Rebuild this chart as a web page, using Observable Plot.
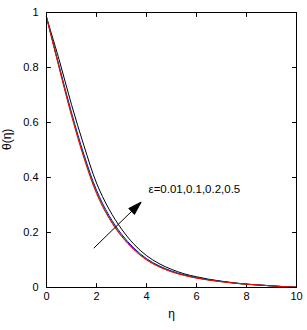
<!DOCTYPE html>
<html>
<head>
<meta charset="utf-8">
<script src="https://cdn.jsdelivr.net/npm/d3@7"></script>
<script src="https://cdn.jsdelivr.net/npm/@observablehq/plot@0.6"></script>
<style>
  html, body { margin: 0; padding: 0; background: #fff; }
  svg { font-family: "Liberation Sans", Arial, sans-serif; }
</style>
</head>
<body>
<div id="chart"></div>
<script>
const eta = [0,0.5,1,1.5,2,2.5,3,3.5,4,4.5,5,5.5,6,6.5,7,7.5,8,8.5,9,9.5,10];
const thetaRed   = [0.983,0.800,0.625,0.470,0.342,0.252,0.186,0.137,0.100,0.075,0.057,0.044,0.034,0.027,0.021,0.016,0.012,0.009,0.006,0.003,0.001];
const thetaGreen = [0.983,0.804,0.630,0.476,0.347,0.256,0.189,0.140,0.102,0.077,0.058,0.045,0.035,0.027,0.021,0.016,0.012,0.009,0.006,0.003,0.001];
const thetaBlue  = [0.983,0.808,0.636,0.483,0.354,0.262,0.194,0.143,0.105,0.079,0.060,0.046,0.036,0.028,0.022,0.016,0.012,0.009,0.006,0.003,0.001];
const thetaBlack = [0.983,0.830,0.665,0.515,0.380,0.285,0.213,0.157,0.116,0.087,0.066,0.050,0.039,0.030,0.023,0.017,0.012,0.009,0.006,0.003,0.001];
const seriesNames = ["black","blue","green","red"];
const seriesColors = ["#000000","#0000ff","#00c800","#ff0000"];
const xTicks = [0,2,4,6,8,10];
const yTicks = [0,0.2,0.4,0.6,0.8,1];
const yTickLabels = ["0","0.2","0.4","0.6","0.8","1"];
const annotation = "ε=0.01,0.1,0.2,0.5";
const arrowFrom = [1.89, 0.143];
const arrowTo = [3.78, 0.31];

const seriesValues = [thetaBlack, thetaBlue, thetaGreen, thetaRed];
const rows = [];
seriesValues.forEach((vals, s) => vals.forEach((v, i) => rows.push({eta: eta[i], theta: v, s: seriesNames[s]})));

const W = 307, H = 330, mL = 46, mR = 11, mT = 12, mB = 43;
const plotW = W - mL - mR, plotH = H - mT - mB;

const tickShape = {draw(ctx, l) { ctx.moveTo(0, 0); ctx.lineTo(0, -l); }};
const headShape = {draw(ctx, l) { ctx.moveTo(0, -l); ctx.lineTo(4, 0); ctx.lineTo(-4, 0); ctx.closePath(); }};

const dxp = (arrowTo[0] - arrowFrom[0]) / 10 * plotW;
const dyp = -(arrowTo[1] - arrowFrom[1]) * plotH;
const rot = Math.atan2(dxp, -dyp) * 180 / Math.PI;

const chart = Plot.plot({
  width: W, height: H,
  marginLeft: mL, marginRight: mR, marginTop: mT, marginBottom: mB,
  style: {fontFamily: "'Liberation Sans', Arial, sans-serif", fontSize: "11px", color: "black", background: "white"},
  x: {domain: [0, 10]},
  y: {domain: [0, 1]},
  color: {domain: seriesNames, range: seriesColors},
  marks: [
    Plot.axisX({ticks: xTicks, tickSize: 0, tickPadding: 5, label: null, fontSize: 11}),
    Plot.axisY({ticks: yTicks, tickFormat: (d, i) => yTickLabels[i], tickSize: 0, tickPadding: 8, label: null, fontSize: 11}),
    Plot.vector(xTicks, {x: d => d, y: 0, length: 4, rotate: 0, anchor: "start", shape: tickShape, stroke: "black", strokeWidth: 1}),
    Plot.vector(xTicks, {x: d => d, y: 1, length: 4, rotate: 180, anchor: "start", shape: tickShape, stroke: "black", strokeWidth: 1}),
    Plot.vector(yTicks, {x: 0, y: d => d, length: 4, rotate: 90, anchor: "start", shape: tickShape, stroke: "black", strokeWidth: 1}),
    Plot.vector(yTicks, {x: 10, y: d => d, length: 4, rotate: -90, anchor: "start", shape: tickShape, stroke: "black", strokeWidth: 1}),
    Plot.line(rows, {x: "eta", y: "theta", z: "s", stroke: "s", strokeWidth: 1, curve: "catmull-rom"}),
    Plot.link([0], {x1: arrowFrom[0], y1: arrowFrom[1], x2: arrowTo[0], y2: arrowTo[1], stroke: "black", strokeWidth: 1}),
    Plot.vector([0], {x: arrowTo[0], y: arrowTo[1], length: 13, rotate: rot, anchor: "end", shape: headShape, fill: "black", stroke: "black", strokeWidth: 1}),
    Plot.text([annotation], {x: 4.08, y: 0.356, text: d => d, textAnchor: "start", fontSize: 11.5, fill: "black"}),
    Plot.text(["η"], {frameAnchor: "bottom", dy: 30, text: d => d, fontSize: 12, fill: "black"}),
    Plot.text(["θ(η)"], {frameAnchor: "left", dx: -39, rotate: -90, text: d => d, fontSize: 12, fill: "black"}),
    Plot.frame({stroke: "black", strokeWidth: 1})
  ]
});
document.getElementById("chart").appendChild(chart);
</script>
</body>
</html>
